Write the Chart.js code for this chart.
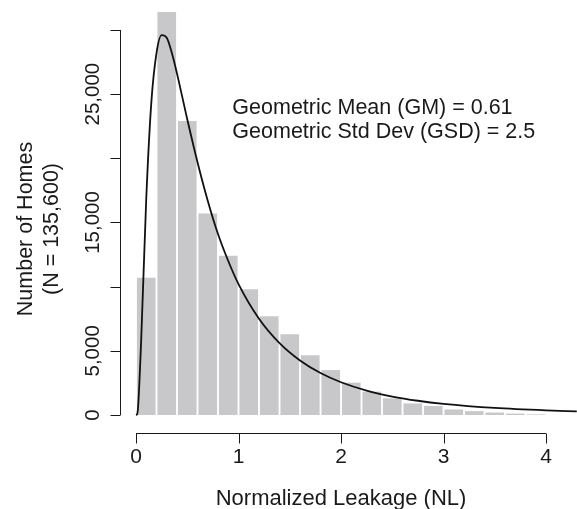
<!DOCTYPE html>
<html>
<head>
<meta charset="utf-8">
<script src="https://cdn.jsdelivr.net/npm/chart.js@4.4.1/dist/chart.umd.min.js"></script>
<style>
  html, body { margin: 0; padding: 0; background: #fff; }
  #wrap { width: 577px; height: 509px; }
</style>
</head>
<body>
<div id="wrap"><canvas id="chart"></canvas></div>
<script>
// histogram: bins of 0.2 NL, counts of homes
const binCenters = [0.1, 0.3, 0.5, 0.7, 0.9, 1.1, 1.3, 1.5, 1.7, 1.9, 2.1, 2.3, 2.5, 2.7, 2.9, 3.1, 3.3, 3.5, 3.7, 3.9];
const binCounts = [10700, 31400, 22900, 15700, 12400, 9800, 7700, 6300, 4650, 3500, 2520, 1820, 1300, 900, 700, 430, 300, 190, 110, 50];

// fitted lognormal curve
const curveX = [0, 0.01, 0.02, 0.05, 0.1, 0.15, 0.2, 0.25, 0.3, 0.35, 0.4, 0.5, 0.6, 0.7, 0.8, 0.9, 1.0, 1.2, 1.4, 1.6, 1.8, 2.0, 2.25, 2.5, 2.75, 3.0, 3.5, 4.0, 4.3];
const curveY = [0, 50, 560, 5700, 16850, 24400, 28200, 29600, 29400, 28200, 26600, 23050, 19700, 16700, 14100, 12000, 10200, 7500, 5600, 4250, 3270, 2550, 1900, 1440, 1110, 870, 550, 360, 285];

const xTicks = [0, 1, 2, 3, 4];
const yTicks = [0, 5000, 10000, 15000, 20000, 25000, 30000];
const yTickLabels = { 0: '0', 5000: '5,000', 15000: '15,000', 25000: '25,000' };
const xTitle = 'Normalized Leakage (NL)';
const yTitle = ['Number of Homes', '(N = 135,600)'];
const noteLines = ['Geometric Mean (GM) = 0.61', 'Geometric Std Dev (GSD) = 2.5'];
const noteX = 0.94;
const noteY = [23450, 21580];

const FONT = '"Liberation Sans", Arial, Helvetica, sans-serif';
const INK = '#1a1a1a';

const rAxes = {
  id: 'rAxes',
  afterDraw(chart) {
    const { ctx, chartArea, scales: { x, y } } = chart;
    ctx.save();
    ctx.strokeStyle = INK;
    ctx.lineWidth = 1;
    // axis lines + ticks only over the tick range, like base R
    const ax = Math.round(y.right) + 0.5;
    const ay = Math.round(x.top) + 0.5;
    ctx.beginPath();
    ctx.moveTo(ax, y.getPixelForValue(yTicks[0]));
    ctx.lineTo(ax, y.getPixelForValue(yTicks[yTicks.length - 1]));
    yTicks.forEach(v => {
      const py = Math.round(y.getPixelForValue(v)) + 0.5;
      ctx.moveTo(ax - 10, py);
      ctx.lineTo(ax, py);
    });
    ctx.moveTo(x.getPixelForValue(xTicks[0]), ay);
    ctx.lineTo(x.getPixelForValue(xTicks[xTicks.length - 1]), ay);
    xTicks.forEach(v => {
      const px = Math.round(x.getPixelForValue(v)) + 0.5;
      ctx.moveTo(px, ay);
      ctx.lineTo(px, ay + 10);
    });
    ctx.stroke();

    ctx.fillStyle = INK;
    ctx.textAlign = 'center';

    // rotated y tick labels
    ctx.font = '20.5px ' + FONT;
    ctx.textBaseline = 'middle';
    Object.keys(yTickLabels).forEach(v => {
      ctx.save();
      ctx.translate(y.right - 27, y.getPixelForValue(+v));
      ctx.rotate(-Math.PI / 2);
      ctx.fillText(yTickLabels[v], 0, 0);
      ctx.restore();
    });

    // axis titles
    ctx.font = '21.5px ' + FONT;
    ctx.textBaseline = 'alphabetic';
    yTitle.forEach((t, i) => {
      ctx.save();
      ctx.translate(chartArea.left - 88.5 + i * 26, 229);
      ctx.rotate(-Math.PI / 2);
      ctx.fillText(t, 0, 0);
      ctx.restore();
    });
    ctx.font = '22px ' + FONT;
    ctx.fillText(xTitle, x.getPixelForValue(2), chart.height - 4);

    // annotation
    ctx.font = '21.5px ' + FONT;
    ctx.textAlign = 'left';
    noteLines.forEach((t, i) => {
      ctx.fillText(t, x.getPixelForValue(noteX), y.getPixelForValue(noteY[i]));
    });
    ctx.restore();
  }
};

new Chart(document.getElementById('chart'), {
  type: 'bar',
  data: {
    datasets: [
      {
        type: 'line',
        data: curveX.map((v, i) => ({ x: v, y: curveY[i] })),
        borderColor: '#111',
        borderWidth: 1.8,
        pointRadius: 0,
        cubicInterpolationMode: 'monotone',
        order: 0
      },
      {
        type: 'bar',
        data: binCenters.map((v, i) => ({ x: v, y: binCounts[i] })),
        backgroundColor: '#c8c8ca',
        borderWidth: 0,
        categoryPercentage: 1,
        barPercentage: 0.91,
        order: 1
      }
    ]
  },
  options: {
    responsive: true,
    maintainAspectRatio: false,
    animation: false,
    layout: { padding: 0 },
    plugins: { legend: { display: false }, tooltip: { enabled: false } },
    scales: {
      x: {
        type: 'linear',
        min: -0.156,
        max: 4.302,
        offset: false,
        border: { display: false },
        // marks are drawn by the plugin; transparent grid keeps the label spacing
        grid: { drawOnChartArea: false, drawTicks: true, tickLength: 10, color: 'rgba(0,0,0,0)' },
        ticks: { stepSize: 1, includeBounds: false, color: INK, padding: 2, font: { family: FONT, size: 21 } },
        afterFit: s => { s.height = 76; }
      },
      y: {
        min: -1403,
        max: 32338,
        border: { display: false },
        grid: { display: false },
        ticks: { display: false },
        afterFit: s => { s.width = 120; }
      }
    }
  },
  plugins: [rAxes]
});
</script>
</body>
</html>
